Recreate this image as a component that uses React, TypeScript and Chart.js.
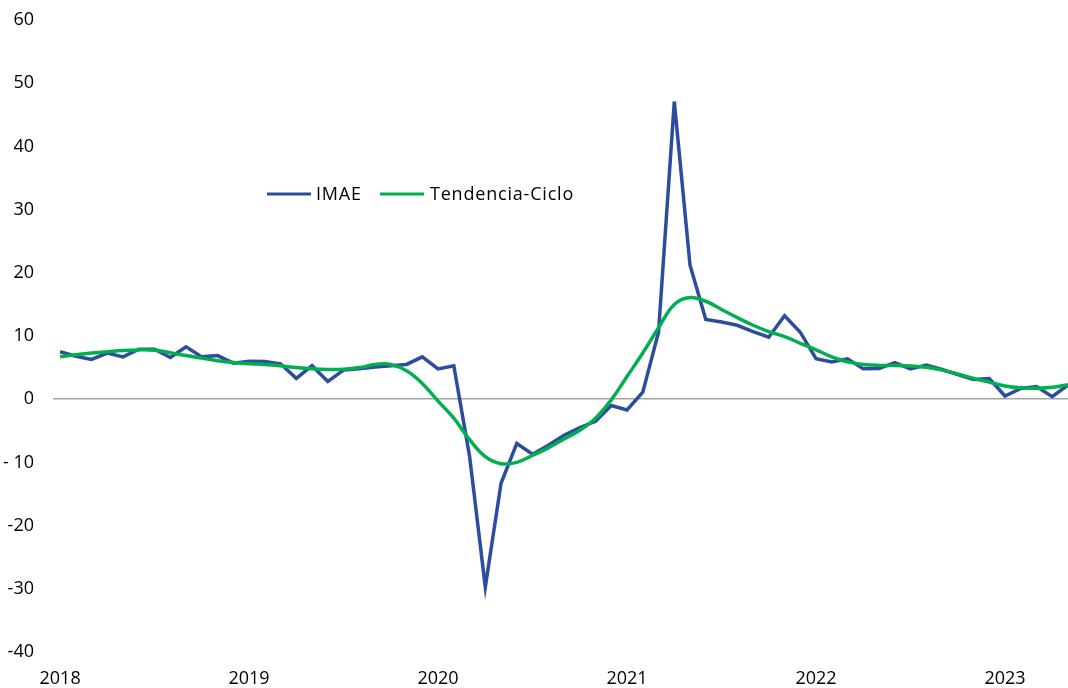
import React, { useEffect, useRef } from "react";
import { Chart, registerables } from "chart.js";

Chart.register(...registerables);

const years = ["2018", "2019", "2020", "2021", "2022", "2023"];
const yearIndex = [0, 12, 24, 36, 48, 60];

const imae = [
  7.5, 6.8, 6.3, 7.3, 6.7, 7.9, 7.9, 6.6, 8.3, 6.7, 6.9, 5.7,
  6.0, 5.95, 5.6, 3.3, 5.3, 2.8, 4.6, 4.8, 5.1, 5.3, 5.5, 6.7,
  4.8, 5.3, -9.0, -29.7, -13.3, -7.0, -8.7, -7.3, -5.7, -4.5, -3.5, -1.0,
  -1.7, 1.1, 10.6, 47.1, 21.2, 12.6, 12.2, 11.7, 10.7, 9.8, 13.2, 10.6,
  6.4, 5.9, 6.4, 4.8, 4.85, 5.8, 4.8, 5.4, 4.7, 3.9, 3.1, 3.25,
  0.5, 1.7, 2.0, 0.4, 2.25,
];

const tendencia = [
  6.7, 7.05, 7.3, 7.5, 7.7, 7.8, 7.75, 7.35, 6.9, 6.5, 6.1, 5.8,
  5.6, 5.5, 5.3, 5.0, 4.8, 4.7, 4.75, 5.0, 5.5, 5.5, 4.5, 2.5,
  -0.3, -3.0, -6.4, -9.1, -10.2, -10.0, -8.9, -7.7, -6.3, -4.9, -3.0, -0.1,
  3.6, 7.3, 11.3, 15.0, 16.1, 15.5, 14.2, 12.9, 11.7, 10.7, 9.9, 8.85,
  7.8, 6.7, 5.9, 5.5, 5.35, 5.35, 5.25, 5.05, 4.6, 4.0, 3.3, 2.7,
  2.1, 1.8, 1.75, 1.9, 2.3,
];

const yTickLabels: Record<number, string> = {
  60: "60", 50: "50", 40: "40", 30: "30", 20: "20", 10: "10", 0: "0",
  [-10]: "- 10", [-20]: "-20", [-30]: "-30", [-40]: "-40",
};

const BLUE = "#2C4D9E";
const GREEN = "#00B050";
const FONT = "'Open Sans'";

const legendPlugin = {
  id: "customLegend",
  afterDraw(chart: any) {
    const ctx = chart.ctx;
    ctx.save();
    ctx.font = `18px ${FONT}`;
    try { ctx.letterSpacing = "0.8px"; } catch (e) {}
    ctx.textBaseline = "middle";
    ctx.fillStyle = "#000";
    ctx.lineWidth = 3;
    const y = 194;
    ctx.strokeStyle = BLUE;
    ctx.beginPath();
    ctx.moveTo(267, y);
    ctx.lineTo(311, y);
    ctx.stroke();
    ctx.fillText("IMAE", 316, y + 1);
    ctx.strokeStyle = GREEN;
    ctx.beginPath();
    ctx.moveTo(380, y);
    ctx.lineTo(424, y);
    ctx.stroke();
    ctx.fillText("Tendencia-Ciclo", 430, y + 1);
    ctx.restore();
  },
};

export default function App() {
  const ref = useRef<HTMLCanvasElement | null>(null);

  useEffect(() => {
    document.body.style.margin = "0";
    const canvas = ref.current;
    if (!canvas) return;
    const chart = new Chart(canvas, {
      type: "line",
      data: {
        datasets: [
          {
            label: "Tendencia-Ciclo",
            data: tendencia.map((v, i) => ({ x: i, y: v })),
            borderColor: GREEN,
            borderWidth: 3.5,
            pointRadius: 0,
            tension: 0.4,
            fill: false,
            order: 0,
          },
          {
            label: "IMAE",
            data: imae.map((v, i) => ({ x: i, y: v })),
            borderColor: BLUE,
            borderWidth: 3.5,
            pointRadius: 0,
            tension: 0,
            fill: false,
            order: 1,
          },
        ],
      },
      options: {
        animation: false,
        responsive: false,
        devicePixelRatio: 1,
        layout: { padding: { top: 20, left: 0, right: 0, bottom: 0 } },
        plugins: {
          legend: { display: false },
          tooltip: { enabled: false },
        },
        scales: {
          x: {
            type: "linear",
            min: -0.45,
            max: 64,
            afterBuildTicks: (scale: any) => {
              scale.ticks = yearIndex.map((v) => ({ value: v }));
            },
            afterFit: (scale: any) => {
              scale.height = 36;
            },
            grid: { display: false, drawTicks: false },
            border: { display: false },
            ticks: {
              autoSkip: false,
              maxRotation: 0,
              padding: 16,
              color: "#000",
              font: { family: FONT, size: 18 },
              callback: (v: any) => {
                const k = yearIndex.indexOf(Number(v));
                return k >= 0 ? years[k] : "";
              },
            },
          },
          y: {
            min: -40,
            max: 60,
            afterFit: (scale: any) => {
              scale.width = 53;
              scale.paddingTop = 0;
              scale.paddingBottom = 0;
            },
            grid: {
              drawTicks: false,
              color: (c: any) => (c.tick && c.tick.value === 0 ? "#A6A6A6" : "rgba(0,0,0,0)"),
              lineWidth: 1.5,
            },
            border: { display: false },
            ticks: {
              stepSize: 10,
              padding: 19,
              color: "#000",
              font: { family: FONT, size: 18 },
              callback: (v: any) => yTickLabels[Number(v)] ?? String(v),
            },
          },
        },
      },
      plugins: [legendPlugin],
    } as any);
    return () => chart.destroy();
  }, []);

  return (
    <div style={{ position: "absolute", left: 0, top: 0, width: 1068, height: 688 }}>
      <canvas ref={ref} width={1068} height={688} />
    </div>
  );
}
